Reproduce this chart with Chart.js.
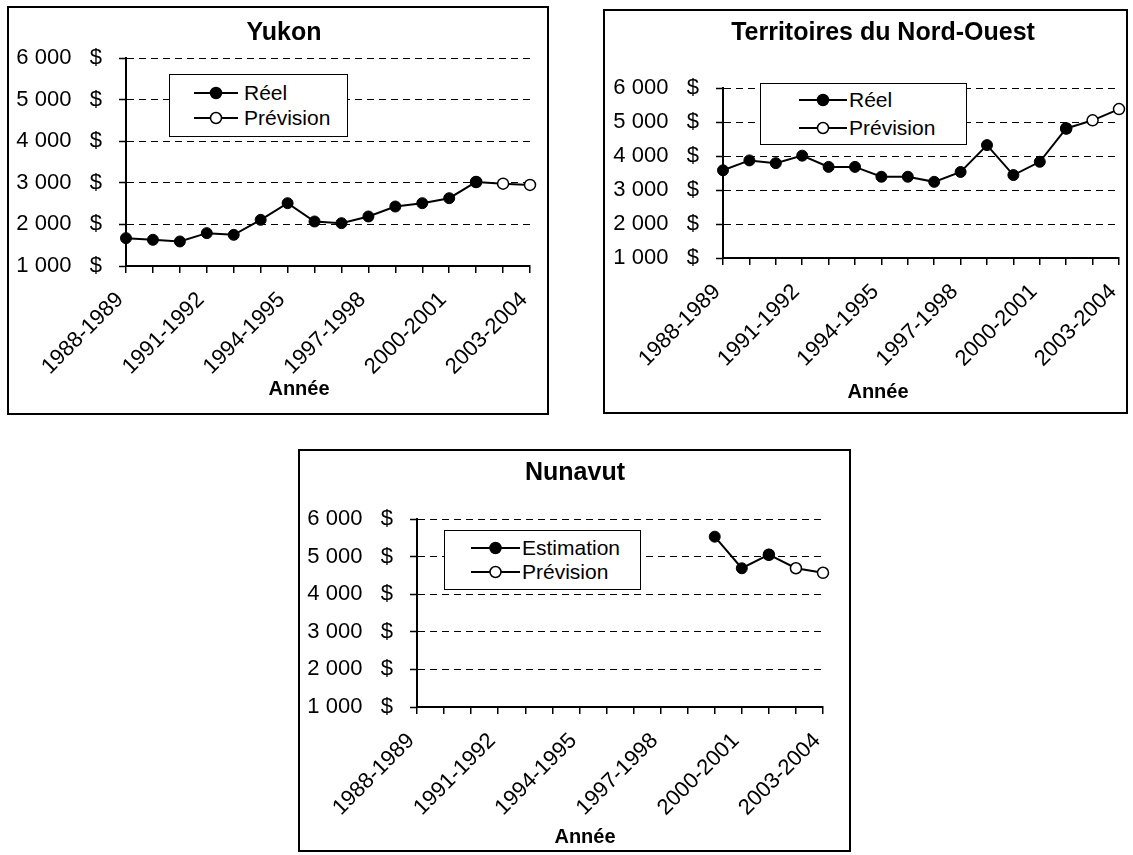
<!DOCTYPE html>
<html lang="fr">
<head>
<meta charset="utf-8">
<title>Yukon, Territoires du Nord-Ouest, Nunavut</title>
<script src="https://cdn.jsdelivr.net/npm/chart.js@4.4.1/dist/chart.umd.min.js"></script>
<style>
  html, body { margin: 0; padding: 0; background: #fff; }
  body { width: 1133px; height: 855px; position: relative; overflow: hidden; font-family: 'Liberation Sans', Arial, sans-serif; }
  .frame { position: absolute; border: 2px solid #000; box-sizing: border-box; background: #fff; }
  .frame canvas { position: absolute; left: 0; top: 0; }
  .legend { position: absolute; border: 1.5px solid #000; background: #fff; box-sizing: border-box; font-size: 21px; color: #000; }
  .legend .row { position: absolute; left: 0; height: 24px; margin-top: -12px; white-space: nowrap; }
  .legend svg, .legend span { position: absolute; top: 0; }
  .legend span { line-height: 24px; }
</style>
</head>
<body>

<div class="frame" style="left:7px; top:6px; width:542px; height:409px;"><canvas id="yukon" width="538" height="405"></canvas></div>
<div class="frame" style="left:603px; top:9px; width:525px; height:405px;"><canvas id="tno" width="521" height="401"></canvas></div>
<div class="frame" style="left:298px; top:449px; width:553px; height:403px;"><canvas id="nunavut" width="549" height="399"></canvas></div>

<script>
const annees = ['1988-1989', '1989-1990', '1990-1991', '1991-1992', '1992-1993', '1993-1994',
                '1994-1995', '1995-1996', '1996-1997', '1997-1998', '1998-1999', '1999-2000',
                '2000-2001', '2001-2002', '2002-2003', '2003-2004'];

const yukonReel = [1670, 1630, 1590, 1790, 1750, 2110, 2510, 2070, 2030, 2190, 2430, 2510, 2630, 3020, null, null];
const yukonPrevision = [null, null, null, null, null, null, null, null, null, null, null, null, null, 3020, 2980, 2950];

const tnoReel = [3580, 3870, 3790, 4010, 3680, 3680, 3390, 3390, 3240, 3530, 4320, 3440, 3830, 4810, null, null];
const tnoPrevision = [null, null, null, null, null, null, null, null, null, null, null, null, null, 4810, 5050, 5380];

const nunavutEstimation = [null, null, null, null, null, null, null, null, null, null, null, 5530, 4690, 5050, null, null];
const nunavutPrevision = [null, null, null, null, null, null, null, null, null, null, null, null, null, 5050, 4690, 4570];

const yTicks = [1000, 2000, 3000, 4000, 5000, 6000];

Chart.defaults.font.family = "'Liberation Sans', Arial, sans-serif";
Chart.defaults.color = '#000';

function formatDollars(v) {
    return String(v).replace(/\B(?=(\d{3})+(?!\d))/g, ' ') + '   $';
}

// title and "Année" caption sit where Excel put them, not centred on the plot
const textes = {
    id: 'textes',
    afterDraw(chart, args, opts) {
        const ctx = chart.ctx;
        ctx.save();
        ctx.fillStyle = '#000';
        ctx.textAlign = 'center';
        ctx.textBaseline = 'middle';
        ctx.font = "bold 25px 'Liberation Sans', Arial, sans-serif";
        ctx.fillText(opts.titre, opts.titreX, opts.titreY);
        ctx.font = "bold 20px 'Liberation Sans', Arial, sans-serif";
        ctx.fillText('Année', opts.anneeX, opts.anneeY);
        ctx.restore();
    }
};

function drawChart(id, titre, labelPlein, plein, prevision, lay) {
    const ctx = document.getElementById(id).getContext('2d');
    return new Chart(ctx, {
        type: 'line',
        data: {
            labels: annees,
            datasets: [{
                label: labelPlein,
                data: plein,
                borderColor: '#000',
                borderWidth: 2,
                pointRadius: 5.5,
                pointBorderWidth: 1,
                pointBackgroundColor: '#000',
                pointBorderColor: '#000'
            }, {
                label: 'Prévision',
                data: prevision,
                borderColor: '#000',
                borderWidth: 2,
                pointRadius: 5.5,
                pointBorderWidth: 1.5,
                pointBackgroundColor: '#fff',
                pointBorderColor: '#000'
            }]
        },
        plugins: [textes],
        options: {
            responsive: false,
            animation: false,
            layout: { padding: { left: 0, right: lay.padRight, top: lay.top, bottom: 0 } },
            plugins: {
                legend: { display: false },
                tooltip: { enabled: false },
                textes: { titre: titre, titreX: lay.titreX, titreY: lay.titreY, anneeX: lay.anneeX, anneeY: lay.anneeY }
            },
            scales: {
                x: {
                    offset: false,
                    afterFit: (scale) => {
                        // keep the plot area where the original has it
                        scale.height = lay.xHeight;
                        scale.paddingLeft = 0;
                        scale.paddingRight = 0;
                    },
                    border: { display: true, color: '#000', width: 2 },
                    grid: { drawOnChartArea: false, drawTicks: true, tickLength: 7, color: '#000', lineWidth: 1.5 },
                    ticks: {
                        autoSkip: false,
                        maxRotation: 45,
                        minRotation: 45,
                        padding: 14,
                        labelOffset: -6,
                        font: { size: 22 },
                        callback: (v, i) => (i % 3 === 0 ? annees[i] : '')
                    }
                },
                y: {
                    min: yTicks[0],
                    max: yTicks[yTicks.length - 1],
                    afterFit: (scale) => { scale.width = lay.yWidth; },
                    afterBuildTicks: (scale) => { scale.ticks = yTicks.map(v => ({ value: v })); },
                    border: { display: true, color: '#000', width: 2, dash: [7, 5] },
                    grid: {
                        color: '#000',
                        lineWidth: 1,
                        tickLength: 7,
                        tickBorderDash: [1, 0],
                        tickWidth: 1.5
                    },
                    ticks: {
                        padding: 17,
                        font: { size: 22 },
                        callback: (v) => formatDollars(v)
                    }
                }
            }
        }
    });
}

function drawLegend(box, labels) {
    const div = document.createElement('div');
    div.className = 'legend';
    div.style.cssText = `left:${box.left}px; top:${box.top}px; width:${box.width}px; height:${box.height}px;`;
    const fills = ['#000', '#fff'];
    div.innerHTML = labels.map((txt, i) => `
        <div class="row" style="top:${box.rows[i]}px;">
            <svg width="${box.lineW + 2}" height="24" style="left:${box.lineX}px;">
                <line x1="0" y1="12" x2="${box.lineW}" y2="12" stroke="#000" stroke-width="2"/>
                <circle cx="${box.lineW / 2}" cy="12" r="5.5" fill="${fills[i]}" stroke="#000" stroke-width="1.5"/>
            </svg>
            <span style="left:${box.textX}px;">${txt}</span>
        </div>`).join('');
    document.body.appendChild(div);
}

drawChart('yukon', 'Yukon', 'Réel', yukonReel, yukonPrevision,
    { top: 50, yWidth: 117, padRight: 17, xHeight: 147, titreX: 275, titreY: 25, anneeX: 290, anneeY: 381 });
drawChart('tno', 'Territoires du Nord-Ouest', 'Réel', tnoReel, tnoPrevision,
    { top: 77, yWidth: 118, padRight: 4, xHeight: 154, titreX: 278, titreY: 22, anneeX: 273, anneeY: 381 });
drawChart('nunavut', 'Nunavut', 'Estimation', nunavutEstimation, nunavutPrevision,
    { top: 68, yWidth: 117, padRight: 26, xHeight: 143, titreX: 275, titreY: 22, anneeX: 285, anneeY: 386 });

drawLegend({ left: 169, top: 74, width: 179, height: 63, rows: [18, 43], lineX: 24, lineW: 44, textX: 74 }, ['Réel', 'Prévision']);
drawLegend({ left: 760, top: 83, width: 207, height: 62, rows: [16, 44], lineX: 38, lineW: 48, textX: 88 }, ['Réel', 'Prévision']);
drawLegend({ left: 444, top: 530, width: 197, height: 60, rows: [17, 41], lineX: 26, lineW: 49, textX: 77 }, ['Estimation', 'Prévision']);
</script>
</body>
</html>
